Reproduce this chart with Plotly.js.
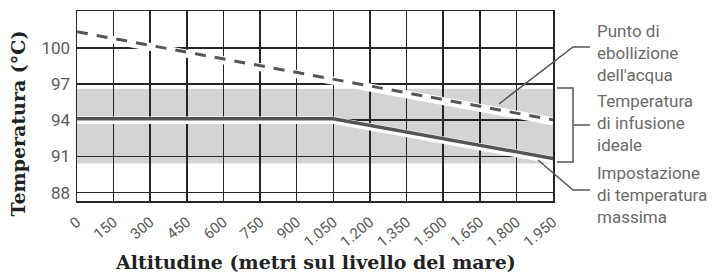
<!DOCTYPE html>
<html>
<head>
<meta charset="utf-8">
<script src="https://cdn.plot.ly/plotly-3.0.1.min.js"></script>
<style>html,body{margin:0;padding:0;background:#fff;}#chart{width:714px;height:276px;}</style>
</head>
<body>
<div id="chart"></div>
<script>
// Data
var altitudeTicks = [0, 150, 300, 450, 600, 750, 900, 1050, 1200, 1350, 1500, 1650, 1800, 1950];
var altitudeTickLabels = ['0', '150', '300', '450', '600', '750', '900', '1.050', '1.200', '1.350', '1.500', '1.650', '1.800', '1.950'];
var tempTicks = [88, 91, 94, 97, 100];

var boilingAltitude = [0, 1950];
var boilingTemp = [101.2, 93.9];

var maxSettingAltitude = [0, 1050, 1950];
var maxSettingTemp = [94, 94, 90.7];

var idealRange = [90.4, 96.6];

var labelBoiling = "Punto di<br>ebollizione<br>dell'acqua";
var labelIdeal = "Temperatura<br>di infusione<br>ideale";
var labelMax = "Impostazione<br>di temperatura<br>massima";
var xTitle = "Altitudine (metri sul livello del mare)";
var yTitle = "Temperatura (°C)";

var W = 714, H = 276, L = 77, R = 161, T = 11, B = 75;
var pw = W - L - R, ph = H - T - B;
function px(x) { return (x - L) / pw; }
function py(y) { return (H - B - y) / ph; }

var yRange = [87.3, 103.05];
var unitPx = ph / (yRange[1] - yRange[0]);
var shift = 1.5 / unitPx;
var y2Range = [yRange[0] - shift, yRange[1] - shift];

var dark = '#555555';
var traces = [
  {x: boilingAltitude, y: boilingTemp, mode: 'lines', yaxis: 'y', line: {color: '#ffffff', width: 8}, hoverinfo: 'skip', showlegend: false},
  {x: maxSettingAltitude, y: maxSettingTemp, mode: 'lines', yaxis: 'y', line: {color: '#ffffff', width: 7.5}, hoverinfo: 'skip', showlegend: false},
  {x: boilingAltitude, y: boilingTemp, mode: 'lines', yaxis: 'y2', line: {color: dark, width: 3, dash: '11px,9px'}, showlegend: false},
  {x: maxSettingAltitude, y: maxSettingTemp, mode: 'lines', yaxis: 'y2', line: {color: dark, width: 3.5}, showlegend: false}
];

var lineC = '#555555';
var shapes = [
  {type: 'rect', xref: 'paper', yref: 'y', x0: 0, x1: 1, y0: idealRange[0], y1: idealRange[1], fillcolor: '#d4d4d4', line: {width: 0}, layer: 'below'},
  {type: 'path', xref: 'paper', yref: 'paper', path: 'M' + px(499) + ',' + py(104) + ' L' + px(573) + ',' + py(47) + ' L' + px(590) + ',' + py(47), line: {color: lineC, width: 1.5}},
  {type: 'path', xref: 'paper', yref: 'paper', path: 'M' + px(557) + ',' + py(88) + ' L' + px(573) + ',' + py(88) + ' L' + px(573) + ',' + py(162) + ' L' + px(557) + ',' + py(162), line: {color: lineC, width: 1.5}},
  {type: 'line', xref: 'paper', yref: 'paper', x0: px(573), x1: px(590), y0: py(125), y1: py(125), line: {color: lineC, width: 1.5}},
  {type: 'path', xref: 'paper', yref: 'paper', path: 'M' + px(538) + ',' + py(160) + ' L' + px(573) + ',' + py(190) + ' L' + px(590) + ',' + py(190), line: {color: lineC, width: 1.5}}
];

var annFont = {family: 'Roboto', size: 17, color: '#6a6a6a'};
var titleFont = {family: 'DejaVu Serif, Liberation Serif, serif', size: 19, color: '#222222', weight: 'bold'};
var annotations = [
  {xref: 'paper', yref: 'paper', x: px(595), y: py(53), xanchor: 'left', yanchor: 'middle', align: 'left', text: labelBoiling, showarrow: false, font: annFont},
  {xref: 'paper', yref: 'paper', x: px(595), y: py(122.7), xanchor: 'left', yanchor: 'middle', align: 'left', text: labelIdeal, showarrow: false, font: annFont},
  {xref: 'paper', yref: 'paper', x: px(595), y: py(195), xanchor: 'left', yanchor: 'middle', align: 'left', text: labelMax, showarrow: false, font: annFont},
  {xref: 'paper', yref: 'paper', x: px(315), y: py(262), xanchor: 'center', yanchor: 'middle', text: xTitle, showarrow: false, font: titleFont},
  {xref: 'paper', yref: 'paper', x: px(18), y: py(123.5), xanchor: 'center', yanchor: 'middle', textangle: -90, text: yTitle, showarrow: false, font: titleFont}
];

var gridC = '#262626';
var layout = {
  width: W, height: H,
  margin: {l: L, r: R, t: T, b: B, pad: 0},
  paper_bgcolor: '#ffffff', plot_bgcolor: '#ffffff',
  showlegend: false,
  xaxis: {
    range: [0, 1950], tickmode: 'array', tickvals: altitudeTicks, ticktext: altitudeTickLabels,
    tickangle: -40, showgrid: true, gridcolor: gridC, gridwidth: 1.5,
    showline: true, linecolor: gridC, linewidth: 1.5, mirror: true, zeroline: false, ticks: '',
    ticklabelstandoff: 5,
    tickfont: {family: 'Roboto', size: 15, color: '#5a5a5a'}
  },
  yaxis: {
    range: yRange, tickmode: 'array', tickvals: tempTicks,
    showgrid: true, gridcolor: gridC, gridwidth: 1.5,
    showline: true, linecolor: gridC, linewidth: 1.5, mirror: true, zeroline: false, ticks: '',
    ticklabelstandoff: 2,
    tickfont: {family: 'Roboto', size: 17, color: '#5a5a5a'}
  },
  yaxis2: {range: y2Range, overlaying: 'y', visible: false, showgrid: false, zeroline: false},
  shapes: shapes,
  annotations: annotations
};

Plotly.newPlot('chart', traces, layout, {displayModeBar: false, staticPlot: true});
</script>
</body>
</html>
